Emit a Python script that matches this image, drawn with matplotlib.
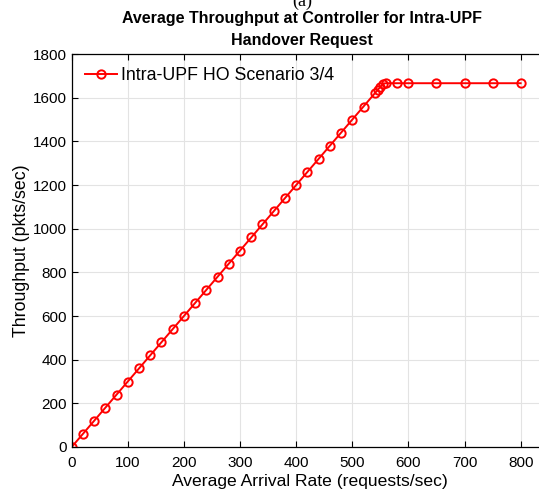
import matplotlib
matplotlib.use("Agg")
import matplotlib.pyplot as plt
import numpy as np

plt.rcParams['font.family'] = ['Liberation Sans', 'DejaVu Sans']

# arrival rate (requests/sec) and throughput (pkts/sec)
arrival = list(range(0, 541, 20)) + [545, 550, 555, 560, 580, 600, 650, 700, 750, 800]
throughput = [0, 60, 120, 180, 240, 300, 360, 420, 480, 540, 600, 660, 720, 780, 840,
              900, 960, 1020, 1080, 1140, 1200, 1260, 1320, 1380, 1440, 1500, 1560, 1620,
              1635, 1650, 1665, 1666.7, 1666.7, 1666.7, 1666.7, 1666.7, 1666.7, 1666.7]

fig = plt.figure(figsize=(5.39, 4.92), dpi=100)
ax = fig.add_axes([0.133, 0.0915, 0.885, 0.7985])

ax.plot(arrival, throughput, color='red', linewidth=1.4, marker='o', markersize=6,
        markerfacecolor='none', markeredgewidth=1.4, label='Intra-UPF HO Scenario 3/4')

ax.set_xlim(0, 850)
ax.set_ylim(0, 1800)
ax.set_xticks(np.arange(0, 801, 100))
ax.set_yticks(np.arange(0, 1801, 200))
ax.grid(True, color='#e3e3e3', linewidth=0.8)
ax.set_axisbelow(True)
ax.tick_params(direction='in', labelsize=11, length=4, top=True, right=True)
ax.tick_params(axis='x', pad=6.5)
for s in ax.spines.values():
    s.set_linewidth(0.9)

ax.set_xlabel('Average Arrival Rate (requests/sec)', fontsize=12.6, labelpad=3)
ax.set_ylabel('Throughput (pkts/sec)', fontsize=12.8, labelpad=2)

fig.text(0.56, 0.997, '(a)', ha='center', va='center', fontsize=13,
         family=['Liberation Serif', 'DejaVu Serif'])
fig.text(0.56, 0.962, 'Average Throughput at Controller for Intra-UPF', ha='center',
         va='center', fontsize=11.5, fontweight='bold')
fig.text(0.56, 0.918, 'Handover Request', ha='center', va='center', fontsize=11.5,
         fontweight='bold')

ax.legend(loc='upper left', frameon=False, fontsize=12.8, handlelength=1.8,
          borderaxespad=0.35, borderpad=0.4, handletextpad=0.25)

fig.savefig('out.png', dpi=100)
